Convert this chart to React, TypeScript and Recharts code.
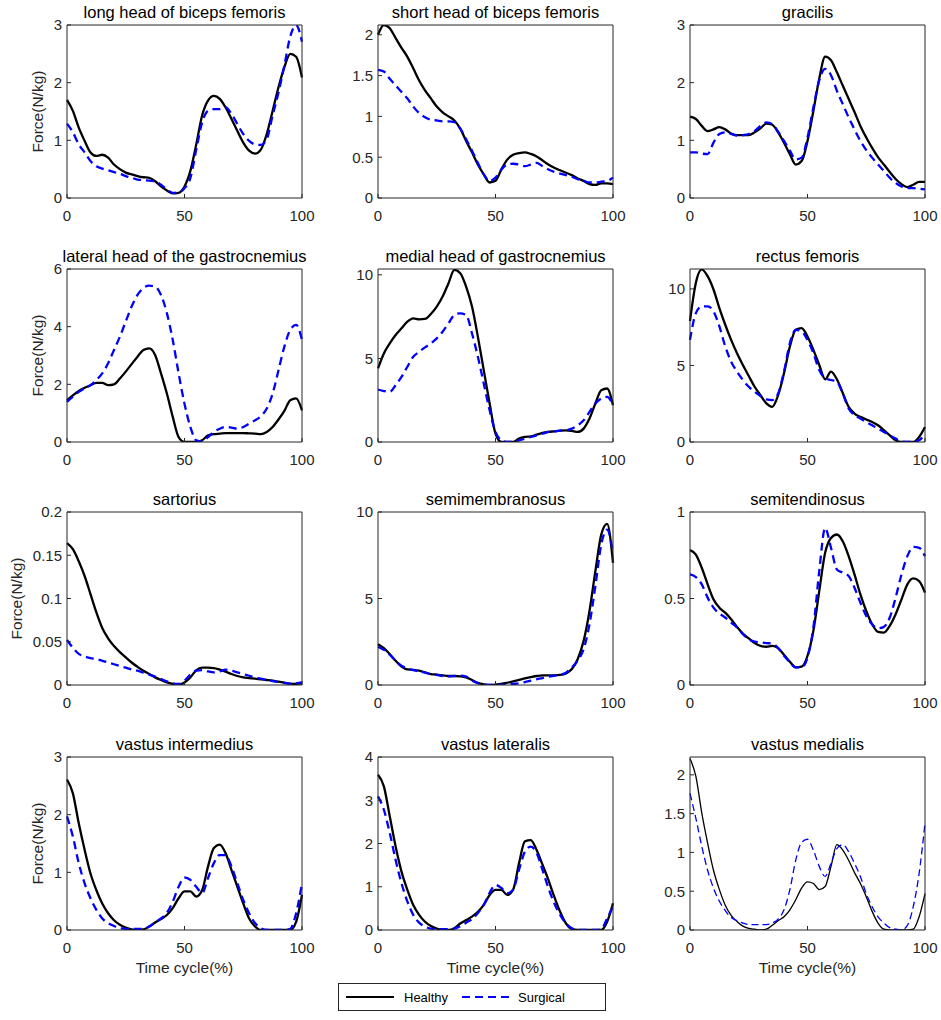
import React from "react"
import { LineChart, Line, XAxis, YAxis } from "recharts"

// gait cycle sample points (%)
const cycle = [
  0, 2.5, 5, 7.5, 10, 12.5, 15, 17.5, 20, 22.5, 25, 27.5, 30, 32.5, 35, 37.5, 40, 42.5, 45, 47.5, 50,
  52.5, 55, 57.5, 60, 62.5, 65, 67.5, 70, 72.5, 75, 77.5, 80, 82.5, 85, 87.5, 90, 92.5, 95, 97.5, 100,
]

const longHeadHealthy = [1.7, 1.51, 1.22, 0.99, 0.79, 0.73, 0.75, 0.7, 0.58, 0.5, 0.44, 0.41, 0.38, 0.36, 0.35, 0.29, 0.2, 0.13, 0.08, 0.09, 0.2, 0.47, 0.93, 1.43, 1.69, 1.77, 1.72, 1.57, 1.37, 1.16, 0.96, 0.82, 0.77, 0.84, 1.11, 1.51, 1.92, 2.27, 2.5, 2.45, 2.09]
const longHeadSurgical = [1.29, 1.14, 0.93, 0.79, 0.64, 0.55, 0.51, 0.48, 0.45, 0.42, 0.38, 0.35, 0.32, 0.31, 0.3, 0.29, 0.23, 0.15, 0.09, 0.1, 0.17, 0.35, 0.84, 1.31, 1.51, 1.54, 1.54, 1.57, 1.46, 1.28, 1.11, 0.99, 0.93, 0.92, 1.02, 1.43, 1.83, 2.3, 2.8, 3.0, 2.71]

const shortHeadHealthy = [2.0, 2.12, 2.08, 1.96, 1.84, 1.73, 1.59, 1.44, 1.32, 1.22, 1.12, 1.05, 1.0, 0.95, 0.85, 0.7, 0.56, 0.41, 0.29, 0.19, 0.21, 0.35, 0.47, 0.53, 0.55, 0.56, 0.54, 0.51, 0.46, 0.41, 0.37, 0.34, 0.31, 0.28, 0.24, 0.21, 0.17, 0.16, 0.18, 0.18, 0.17]
const shortHeadSurgical = [1.57, 1.55, 1.46, 1.38, 1.3, 1.22, 1.12, 1.04, 0.99, 0.96, 0.95, 0.94, 0.94, 0.93, 0.85, 0.72, 0.58, 0.43, 0.29, 0.21, 0.25, 0.35, 0.41, 0.42, 0.41, 0.39, 0.41, 0.43, 0.39, 0.35, 0.32, 0.3, 0.28, 0.26, 0.23, 0.21, 0.19, 0.19, 0.2, 0.21, 0.25]

const gracilisHealthy = [1.41, 1.37, 1.25, 1.16, 1.19, 1.23, 1.19, 1.12, 1.09, 1.09, 1.09, 1.14, 1.21, 1.29, 1.27, 1.14, 0.96, 0.76, 0.58, 0.64, 0.99, 1.51, 2.07, 2.45, 2.39, 2.18, 1.95, 1.72, 1.49, 1.25, 1.05, 0.87, 0.71, 0.58, 0.45, 0.33, 0.24, 0.19, 0.23, 0.28, 0.28]
const gracilisSurgical = [0.79, 0.79, 0.77, 0.76, 0.96, 1.11, 1.14, 1.11, 1.08, 1.09, 1.11, 1.16, 1.25, 1.31, 1.28, 1.15, 0.99, 0.82, 0.67, 0.7, 1.05, 1.57, 2.04, 2.24, 2.13, 1.86, 1.63, 1.4, 1.19, 0.99, 0.83, 0.7, 0.58, 0.47, 0.35, 0.26, 0.2, 0.17, 0.17, 0.16, 0.15]

const lateralGastrocHealthy = [1.45, 1.62, 1.77, 1.88, 1.97, 2.05, 2.05, 1.97, 2.0, 2.2, 2.44, 2.7, 2.96, 3.19, 3.25, 3.02, 2.38, 1.68, 0.87, 0.17, 0, 0, 0, 0.06, 0.23, 0.27, 0.29, 0.31, 0.31, 0.31, 0.31, 0.3, 0.29, 0.27, 0.35, 0.52, 0.78, 1.08, 1.45, 1.51, 1.1]
const lateralGastrocSurgical = [1.39, 1.57, 1.74, 1.86, 1.97, 2.15, 2.38, 2.73, 3.19, 3.65, 4.18, 4.7, 5.1, 5.34, 5.42, 5.39, 5.1, 4.47, 3.54, 2.38, 1.33, 0.52, 0.06, 0.02, 0.17, 0.35, 0.46, 0.52, 0.5, 0.46, 0.52, 0.64, 0.75, 0.89, 1.16, 1.68, 2.49, 3.31, 3.89, 4.06, 3.54]

const medialGastrocHealthy = [4.4, 5.3, 5.9, 6.4, 6.8, 7.2, 7.4, 7.34, 7.36, 7.66, 8.1, 8.7, 9.5, 10.3, 10.1, 9.3, 8.1, 6.3, 4.3, 2.3, 0.5, 0, 0, 0, 0.2, 0.3, 0.34, 0.44, 0.54, 0.6, 0.64, 0.68, 0.7, 0.66, 0.6, 0.8, 1.4, 2.3, 3.1, 3.2, 2.2]
const medialGastrocSurgical = [3.14, 3.05, 3.0, 3.4, 3.9, 4.5, 5.1, 5.4, 5.66, 5.9, 6.2, 6.6, 7.1, 7.6, 7.7, 7.6, 6.5, 5.1, 3.5, 1.9, 0.6, 0.1, 0, 0, 0.1, 0.2, 0.3, 0.4, 0.5, 0.6, 0.64, 0.68, 0.7, 0.8, 1.0, 1.3, 1.8, 2.3, 2.6, 2.7, 2.2]

const rectusHealthy = [7.9, 10.4, 11.27, 10.83, 9.96, 8.75, 7.66, 6.67, 5.8, 5.03, 4.31, 3.61, 3.06, 2.52, 2.3, 3.06, 4.49, 6.24, 7.33, 7.44, 6.89, 6.02, 5.03, 4.1, 4.6, 4.1, 3.2, 2.3, 1.86, 1.64, 1.47, 1.31, 1.09, 0.77, 0.44, 0.11, 0, 0, 0, 0.33, 0.98]
const rectusSurgical = [6.67, 8.42, 8.86, 8.86, 8.53, 7.55, 6.24, 5.25, 4.6, 4.05, 3.61, 3.28, 3.0, 2.78, 2.74, 3.17, 4.6, 6.46, 7.33, 7.22, 6.67, 5.8, 4.7, 4.16, 4.05, 3.94, 3.17, 2.19, 1.75, 1.53, 1.31, 1.09, 0.88, 0.66, 0.44, 0.22, 0.04, 0, 0, 0.11, 0.55]

const sartoriusHealthy = [0.164, 0.157, 0.143, 0.126, 0.105, 0.084, 0.066, 0.054, 0.045, 0.038, 0.032, 0.026, 0.021, 0.0165, 0.0127, 0.0088, 0.0058, 0.003, 0.0012, 0.0004, 0.003, 0.0088, 0.017, 0.02, 0.02, 0.0196, 0.0177, 0.0154, 0.0127, 0.0104, 0.0088, 0.008, 0.0073, 0.0065, 0.0058, 0.005, 0.0038, 0.0027, 0.0015, 0.0012, 0.0023]
const sartoriusSurgical = [0.052, 0.043, 0.036, 0.033, 0.031, 0.03, 0.028, 0.026, 0.024, 0.022, 0.02, 0.018, 0.0165, 0.0142, 0.012, 0.0096, 0.0069, 0.0042, 0.0019, 0.0012, 0.005, 0.012, 0.0165, 0.0173, 0.0157, 0.0146, 0.0157, 0.0177, 0.0165, 0.0146, 0.0127, 0.0107, 0.0088, 0.0073, 0.0058, 0.0046, 0.0035, 0.0023, 0.0015, 0.0019, 0.003]

const semimembHealthy = [2.36, 2.13, 1.79, 1.4, 1.06, 0.9, 0.88, 0.83, 0.73, 0.63, 0.6, 0.56, 0.52, 0.52, 0.5, 0.44, 0.29, 0.12, 0.04, 0, 0.02, 0.06, 0.13, 0.21, 0.29, 0.38, 0.46, 0.52, 0.56, 0.56, 0.56, 0.58, 0.67, 0.92, 1.5, 2.55, 4.28, 6.58, 8.69, 9.31, 7.06]
const semimembSurgical = [2.21, 2.03, 1.75, 1.4, 1.11, 0.96, 0.86, 0.79, 0.71, 0.63, 0.58, 0.52, 0.5, 0.52, 0.54, 0.48, 0.25, 0.1, 0.04, 0, 0, 0, 0.02, 0.06, 0.1, 0.17, 0.25, 0.33, 0.4, 0.48, 0.54, 0.6, 0.71, 1.02, 1.4, 2.07, 3.51, 5.72, 8.12, 8.98, 7.64]

const semitendHealthy = [0.78, 0.754, 0.678, 0.582, 0.495, 0.447, 0.418, 0.38, 0.336, 0.297, 0.269, 0.242, 0.226, 0.221, 0.226, 0.213, 0.175, 0.134, 0.102, 0.106, 0.169, 0.313, 0.543, 0.764, 0.85, 0.87, 0.831, 0.745, 0.639, 0.524, 0.428, 0.351, 0.307, 0.303, 0.342, 0.409, 0.495, 0.582, 0.616, 0.601, 0.534]
const semitendSurgical = [0.639, 0.624, 0.582, 0.505, 0.447, 0.413, 0.39, 0.361, 0.332, 0.294, 0.265, 0.251, 0.246, 0.242, 0.24, 0.213, 0.169, 0.131, 0.102, 0.102, 0.159, 0.332, 0.658, 0.908, 0.793, 0.668, 0.649, 0.63, 0.562, 0.476, 0.399, 0.351, 0.328, 0.336, 0.39, 0.505, 0.639, 0.745, 0.798, 0.793, 0.745]

const vastIntHealthy = [2.61, 2.37, 1.85, 1.39, 0.98, 0.69, 0.46, 0.29, 0.17, 0.09, 0.04, 0.01, 0, 0.01, 0.06, 0.13, 0.19, 0.26, 0.38, 0.55, 0.67, 0.67, 0.58, 0.69, 1.1, 1.42, 1.48, 1.33, 1.04, 0.75, 0.46, 0.2, 0.06, 0, 0, 0, 0, 0, 0, 0.14, 0.61]
const vastIntSurgical = [1.97, 1.62, 1.16, 0.81, 0.55, 0.35, 0.2, 0.12, 0.07, 0.03, 0.02, 0.02, 0.02, 0.02, 0.06, 0.13, 0.2, 0.3, 0.49, 0.75, 0.91, 0.87, 0.75, 0.64, 0.9, 1.16, 1.3, 1.3, 1.1, 0.81, 0.52, 0.29, 0.12, 0.03, 0, 0, 0, 0, 0.02, 0.29, 0.81]

const vastLatHealthy = [3.59, 3.32, 2.63, 1.93, 1.35, 0.93, 0.58, 0.35, 0.19, 0.09, 0.03, 0, 0, 0.04, 0.15, 0.23, 0.31, 0.42, 0.58, 0.81, 0.93, 0.93, 0.81, 0.93, 1.54, 2.05, 2.08, 1.85, 1.51, 1.16, 0.77, 0.42, 0.15, 0.02, 0, 0, 0, 0, 0, 0.19, 0.62]
const vastLatSurgical = [3.09, 2.78, 2.24, 1.62, 1.08, 0.66, 0.35, 0.17, 0.08, 0.03, 0.02, 0.02, 0.02, 0.03, 0.09, 0.17, 0.25, 0.39, 0.58, 0.86, 1.04, 0.97, 0.85, 0.93, 1.39, 1.81, 1.93, 1.78, 1.39, 0.97, 0.62, 0.35, 0.15, 0.04, 0, 0, 0, 0, 0.02, 0.27, 0.54]

const vastMedHealthy = [2.21, 1.98, 1.51, 1.12, 0.77, 0.52, 0.32, 0.19, 0.11, 0.05, 0.02, 0.01, 0, 0.01, 0.06, 0.12, 0.17, 0.26, 0.39, 0.54, 0.62, 0.6, 0.52, 0.56, 0.82, 1.1, 1.03, 0.9, 0.74, 0.6, 0.43, 0.24, 0.09, 0.01, 0, 0, 0, 0, 0.01, 0.17, 0.47]
const vastMedSurgical = [1.76, 1.44, 1.08, 0.77, 0.54, 0.37, 0.25, 0.16, 0.12, 0.09, 0.07, 0.07, 0.07, 0.07, 0.09, 0.14, 0.26, 0.52, 0.9, 1.13, 1.17, 1.03, 0.82, 0.69, 0.86, 1.05, 1.1, 1.01, 0.86, 0.69, 0.47, 0.3, 0.17, 0.09, 0.03, 0.01, 0, 0.06, 0.3, 0.73, 1.38]

const xTicks = [0, 50, 100]

const panels = [
  { title: "long head of biceps femoris", healthy: longHeadHealthy, surgical: longHeadSurgical, yMax: 3, yTicks: [0, 1, 2, 3] },
  { title: "short head of biceps femoris", healthy: shortHeadHealthy, surgical: shortHeadSurgical, yMax: 2.12, yTicks: [0, 0.5, 1, 1.5, 2] },
  { title: "gracilis", healthy: gracilisHealthy, surgical: gracilisSurgical, yMax: 3, yTicks: [0, 1, 2, 3] },
  { title: "lateral head of the gastrocnemius", healthy: lateralGastrocHealthy, surgical: lateralGastrocSurgical, yMax: 6, yTicks: [0, 2, 4, 6] },
  { title: "medial head of gastrocnemius", healthy: medialGastrocHealthy, surgical: medialGastrocSurgical, yMax: 10.35, yTicks: [0, 5, 10] },
  { title: "rectus femoris", healthy: rectusHealthy, surgical: rectusSurgical, yMax: 11.3, yTicks: [0, 5, 10] },
  { title: "sartorius", healthy: sartoriusHealthy, surgical: sartoriusSurgical, yMax: 0.2, yTicks: [0, 0.05, 0.1, 0.15, 0.2], labelOffset: 11 },
  { title: "semimembranosus", healthy: semimembHealthy, surgical: semimembSurgical, yMax: 10, yTicks: [0, 5, 10] },
  { title: "semitendinosus", healthy: semitendHealthy, surgical: semitendSurgical, yMax: 1, yTicks: [0, 0.5, 1] },
  { title: "vastus intermedius", healthy: vastIntHealthy, surgical: vastIntSurgical, yMax: 3, yTicks: [0, 1, 2, 3] },
  { title: "vastus lateralis", healthy: vastLatHealthy, surgical: vastLatSurgical, yMax: 4, yTicks: [0, 1, 2, 3, 4] },
  { title: "vastus medialis", healthy: vastMedHealthy, surgical: vastMedSurgical, yMax: 2.23, yTicks: [0, 0.5, 1, 1.5, 2], thin: true },
]

const FONT = '"Liberation Sans", Arial, Helvetica, sans-serif'
const AXIS = "#262626"

const PLOT_W = 235
const PLOT_H = 173
const GUTTER_L = 62
const GUTTER_T = 25
const GUTTER_R = 24
const GUTTER_B = 50

const colLeft = [67, 378, 690]
const rowTop = [25, 269, 512, 757]

function MusclePanel({ panel, row, col }: { panel: any; row: number; col: number }) {
  const data = cycle.map((t, i) => ({ t, healthy: panel.healthy[i], surgical: panel.surgical[i] }))
  const width = panel.thin ? 1.3 : 2.3
  const tickStyle = { fill: AXIS, fontSize: 15, fontFamily: FONT }

  return (
    <div style={{ position: "absolute", left: colLeft[col] - GUTTER_L, top: rowTop[row] - GUTTER_T }}>
      <div
        style={{
          position: "absolute",
          left: GUTTER_L - 40,
          width: PLOT_W + 80,
          top: GUTTER_T - 22,
          textAlign: "center",
          fontFamily: FONT,
          fontSize: 16.5,
          lineHeight: "18px",
          color: "#000",
          whiteSpace: "nowrap",
        }}
      >
        {panel.title}
      </div>
      <LineChart
        width={GUTTER_L + PLOT_W + GUTTER_R}
        height={GUTTER_T + PLOT_H + GUTTER_B}
        data={data}
        margin={{ top: GUTTER_T - 1, right: GUTTER_R - 1, bottom: 0, left: 0 }}
      >
        <XAxis
          dataKey="t"
          type="number"
          domain={[0, 100]}
          ticks={xTicks}
          interval={0}
          height={GUTTER_B}
          tickSize={-4}
          tickMargin={16}
          stroke={AXIS}
          tick={tickStyle}
          label={
            row === 3
              ? { value: "Time cycle(%)", position: "insideBottom", offset: 7, fill: AXIS, fontSize: 15.5, fontFamily: FONT }
              : undefined
          }
        />
        <XAxis
          xAxisId="top"
          orientation="top"
          type="number"
          domain={[0, 100]}
          ticks={xTicks}
          interval={0}
          height={1}
          tickSize={-4}
          tick={false}
          stroke={AXIS}
        />
        <YAxis
          type="number"
          domain={[0, panel.yMax]}
          ticks={panel.yTicks}
          interval={0}
          allowDataOverflow
          width={GUTTER_L}
          tickSize={-4}
          tickMargin={9}
          stroke={AXIS}
          tick={tickStyle}
          label={
            col === 0
              ? {
                  value: "Force(N/kg)",
                  angle: -90,
                  position: "insideLeft",
                  offset: panel.labelOffset ?? 32,
                  fill: AXIS,
                  fontSize: 15.5,
                  fontFamily: FONT,
                  style: { textAnchor: "middle" },
                }
              : undefined
          }
        />
        <YAxis
          yAxisId="right"
          orientation="right"
          type="number"
          domain={[0, panel.yMax]}
          ticks={panel.yTicks}
          interval={0}
          width={1}
          tickSize={-4}
          tick={false}
          stroke={AXIS}
        />
        <Line
          dataKey="healthy"
          type="monotone"
          stroke="#000000"
          strokeWidth={width}
          dot={false}
          isAnimationActive={false}
        />
        <Line
          dataKey="surgical"
          type="monotone"
          stroke="#0000ff"
          strokeWidth={width}
          strokeDasharray={panel.thin ? "7 4" : "8 5"}
          dot={false}
          isAnimationActive={false}
        />
      </LineChart>
    </div>
  )
}

function LegendBox() {
  return (
    <svg width={268} height={28} style={{ position: "absolute", left: 338, top: 983 }}>
      <rect x={0.5} y={0.5} width={267} height={27} fill="#fff" stroke={AXIS} strokeWidth={1} />
      <line x1={8} y1={14} x2={56} y2={14} stroke="#000" strokeWidth={2} />
      <text x={66} y={18.5} fontSize={13} fontFamily={FONT} fill="#000">
        Healthy
      </text>
      <line x1={124} y1={14} x2={172} y2={14} stroke="#0000ff" strokeWidth={2} strokeDasharray="8 5" />
      <text x={180} y={18.5} fontSize={13} fontFamily={FONT} fill="#000">
        Surgical
      </text>
    </svg>
  )
}

export default function App() {
  return (
    <div style={{ position: "absolute", left: 0, top: 0, width: 941, height: 1020, background: "#fff" }}>
      {panels.map((p, i) => (
        <MusclePanel key={p.title} panel={p} row={Math.floor(i / 3)} col={i % 3} />
      ))}
      <LegendBox />
    </div>
  )
}
